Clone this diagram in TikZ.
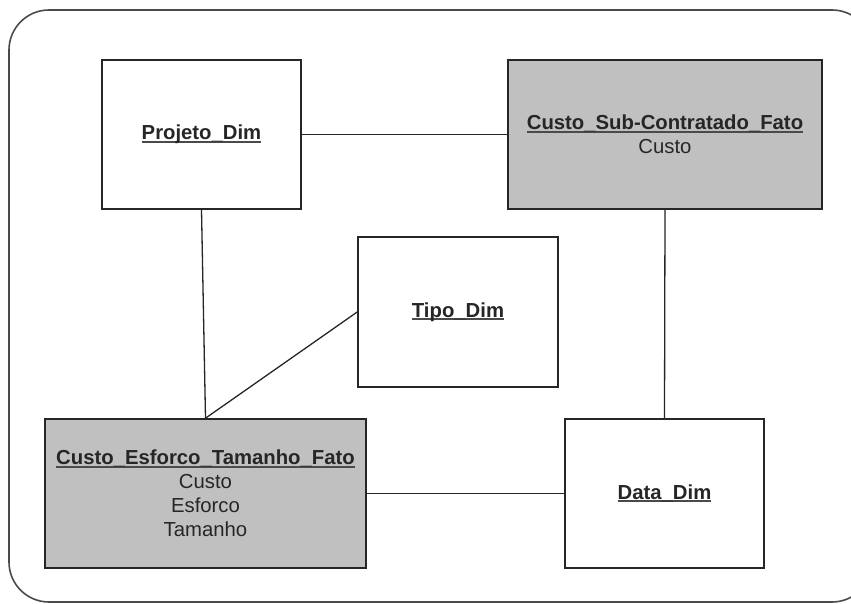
\documentclass[tikz,border=0pt]{standalone}
\usepackage{fontspec}
\setmainfont{Liberation Sans}
\definecolor{boxfill}{HTML}{C0C0C0}
\definecolor{inkc}{HTML}{262626}
\definecolor{ulc}{HTML}{4A4A4A}
\newcommand\ttlu[1]{\setbox0\hbox{\bfseries #1}\rlap{\color{ulc}\rule[-2.8pt]{\wd0}{2pt}}\box0}
\tikzset{
  ent/.style={draw=inkc, line width=1.6pt, fill=white, inner sep=0pt, align=center,
    text=inkc, font=\fontsize{20.3}{24}\selectfont},
  fact/.style={ent, fill=boxfill},
  link/.style={draw=inkc, line width=1.3pt}
}
\begin{document}
\begin{tikzpicture}[x=1pt,y=-1pt]
\useasboundingbox (0,0) rectangle (851,604);
\fill[white] (0,0) rectangle (851,604);
\draw[draw=ulc, line width=1.6pt, rounded corners=40pt] (9,10) rectangle (872,602);
\node[ent, minimum width=199pt, minimum height=149pt] (proj) at (201.5,134.5) {\ttlu{Projeto\_Dim}};
\node[fact, minimum width=314pt, minimum height=149pt] (sub) at (665,134.5) {\ttlu{Custo\_Sub-Contratado\_Fato}\\Custo};
\node[ent, minimum width=200pt, minimum height=150pt] (tipo) at (458,312) {\ttlu{Tipo\_Dim}};
\node[fact, minimum width=321pt, minimum height=149pt] (esf) at (205.5,493.5) {\ttlu{Custo\_Esforco\_Tamanho\_Fato}\\Custo\\Esforco\\Tamanho};
\node[ent, minimum width=199pt, minimum height=149pt] (data) at (664.5,493.5) {\ttlu{Data\_Dim}};
\draw[link] (proj.east) -- (sub.west);
\draw[link] (proj.south) -- (esf.north);
\draw[link] (tipo.west) -- (esf.north);
\draw[link] (sub.south) -- (data.north);
\draw[link] (esf.east) -- (data.west);
\end{tikzpicture}
\end{document}
